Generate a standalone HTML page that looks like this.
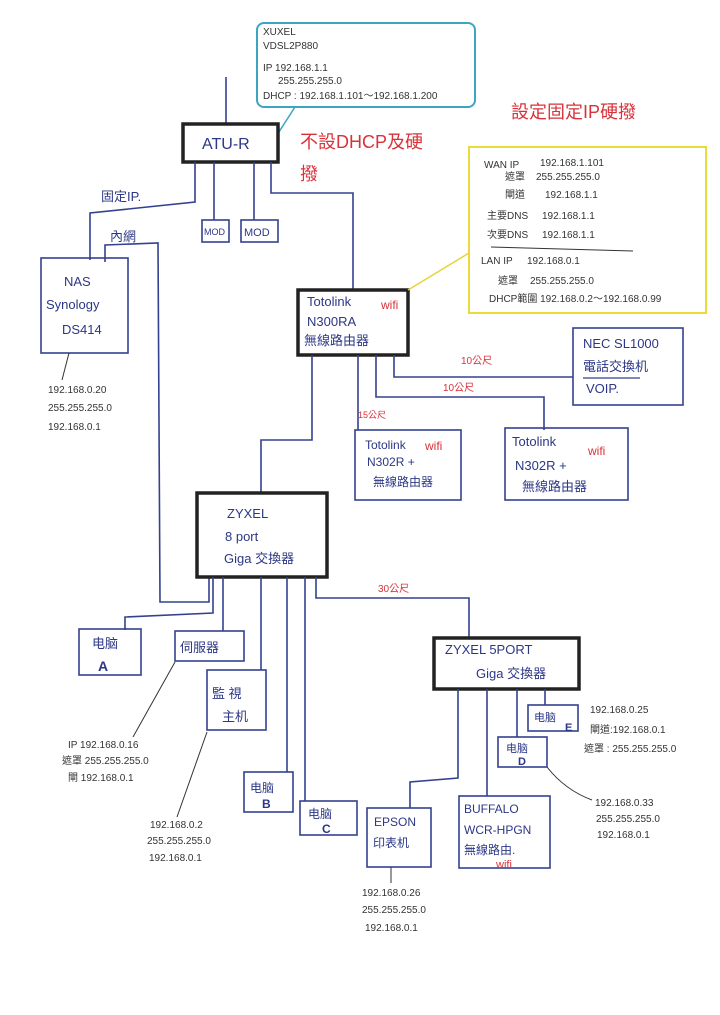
<!DOCTYPE html>
<html><head><meta charset="utf-8"><style>
html,body{margin:0;padding:0;background:#fff;}
svg{display:block;}
text{font-family:"Liberation Sans","Noto Sans CJK TC",sans-serif;fill:#2c3785;}
.s{font-size:10px;fill:#333;}
.r{fill:#d8323a;}
.m{font-size:13px;}
</style></head><body>
<svg width="720" height="1015" viewBox="0 0 720 1015" xmlns="http://www.w3.org/2000/svg">
<rect width="720" height="1015" fill="#fff"/>
<g fill="none" stroke="#34418f" stroke-width="1.6">
<!-- cyan box & ATU -->
<rect x="257" y="23" width="218" height="84" rx="7" stroke="#3aa6c2" stroke-width="2"/>
<line x1="277" y1="135" x2="295" y2="107" stroke="#3aa6c2" stroke-width="1.5"/>
<line x1="226" y1="77" x2="226" y2="124"/>
<rect x="183" y="124" width="95" height="38" stroke="#222" stroke-width="3.5"/>
<!-- ATU lines -->
<polyline points="195,162 195,202 90,213 90,260"/>
<polyline points="214,162 214,220"/>
<rect x="202" y="220" width="27" height="22"/>
<polyline points="254,162 254,220"/>
<rect x="241" y="220" width="37" height="22"/>
<polyline points="271,162 271,193 353,193 353,290"/>
<polyline points="105,262 105,245 158,243 160,602 209,602 209,577"/>
<!-- NAS -->
<rect x="41" y="258" width="87" height="95"/>
<line x1="69" y1="353" x2="62" y2="380" stroke="#333" stroke-width="1"/>
<!-- totolink main -->
<rect x="298" y="290" width="110" height="65" stroke="#222" stroke-width="3.5"/>
<line x1="408" y1="290" x2="469" y2="253" stroke="#e6d43a" stroke-width="1.5"/>
<rect x="469" y="147" width="237" height="166" stroke="#e9da3e" stroke-width="2"/>
<line x1="491" y1="247" x2="633" y2="251" stroke="#333" stroke-width="1"/>
<polyline points="394,355 394,377 573,377"/>
<polyline points="376,355 376,397 544,397 544,430"/>
<polyline points="358,355 358,430"/>
<polyline points="312,355 312,440 261,440 261,493"/>
<rect x="573" y="328" width="110" height="77"/>
<line x1="583" y1="378" x2="640" y2="378" stroke-width="1.2"/>
<rect x="355" y="430" width="106" height="70"/>
<rect x="505" y="428" width="123" height="72"/>
<!-- 8 port -->
<rect x="197" y="493" width="130" height="84" stroke="#222" stroke-width="3.5"/>
<polyline points="213,577 213,613 125,617 125,630"/>
<polyline points="223,577 223,631"/>
<polyline points="261,577 261,670"/>
<polyline points="287,577 287,772"/>
<polyline points="305,577 305,801"/>
<polyline points="316,577 316,598 469,598 469,638"/>
<rect x="79" y="629" width="62" height="46"/>
<rect x="175" y="631" width="69" height="30"/>
<line x1="175" y1="662" x2="133" y2="737" stroke="#333" stroke-width="1"/>
<rect x="207" y="670" width="59" height="60"/>
<line x1="207" y1="732" x2="177" y2="817" stroke="#333" stroke-width="1"/>
<rect x="244" y="772" width="49" height="40"/>
<rect x="300" y="801" width="57" height="34"/>
<!-- 5 port -->
<rect x="434" y="638" width="145" height="51" stroke="#222" stroke-width="3.5"/>
<polyline points="458,689 458,778 410,782 410,808"/>
<polyline points="487,689 487,796"/>
<polyline points="517,689 517,737"/>
<polyline points="545,689 545,705"/>
<rect x="528" y="705" width="50" height="26"/>
<rect x="498" y="737" width="49" height="30"/>
<path d="M547,767 Q565,790 592,800" stroke="#333" stroke-width="1"/>
<rect x="367" y="808" width="64" height="59"/>
<line x1="391" y1="867" x2="391" y2="883" stroke="#333" stroke-width="1"/>
<rect x="459" y="796" width="91" height="72"/>
</g>
<!-- texts -->
<text class="s" x="263" y="35">XUXEL</text>
<text class="s" x="263" y="49">VDSL2P880</text>
<text class="s" x="263" y="71">IP 192.168.1.1</text>
<text class="s" x="278" y="84">255.255.255.0</text>
<text class="s" x="263" y="99">DHCP : 192.168.1.101～192.168.1.200</text>
<text x="202" y="149" style="font-size:16px">ATU-R</text>
<text class="r" x="300" y="148" style="font-size:18px">不設DHCP及硬</text>
<text class="r" x="300" y="180" style="font-size:18px">撥</text>
<text class="r" x="511" y="118" style="font-size:18px">設定固定IP硬撥</text>
<text x="101" y="201" class="m">固定IP.</text>
<text x="110" y="241" class="m">內網</text>
<text x="204" y="235" style="font-size:9px">MOD</text>
<text x="244" y="236" style="font-size:11px">MOD</text>
<text x="64" y="286" class="m">NAS</text>
<text x="46" y="309" class="m">Synology</text>
<text x="62" y="334" class="m">DS414</text>
<text class="s" x="48" y="393">192.168.0.20</text>
<text class="s" x="48" y="411">255.255.255.0</text>
<text class="s" x="48" y="430">192.168.0.1</text>
<text x="307" y="306" class="m">Totolink</text>
<text x="381" y="309" class="r" style="font-size:12px">wifi</text>
<text x="307" y="326" class="m">N300RA</text>
<text x="304" y="345" class="m">無線路由器</text>
<g class="s">
<text class="s" x="484" y="168">WAN IP</text><text class="s" x="540" y="166">192.168.1.101</text>
<text class="s" x="505" y="180">遮罩</text><text class="s" x="536" y="180">255.255.255.0</text>
<text class="s" x="505" y="198">閘道</text><text class="s" x="545" y="198">192.168.1.1</text>
<text class="s" x="487" y="219">主要DNS</text><text class="s" x="542" y="219">192.168.1.1</text>
<text class="s" x="487" y="238">次要DNS</text><text class="s" x="542" y="238">192.168.1.1</text>
<text class="s" x="481" y="264">LAN IP</text><text class="s" x="527" y="264">192.168.0.1</text>
<text class="s" x="498" y="284">遮罩</text><text class="s" x="530" y="284">255.255.255.0</text>
<text class="s" x="489" y="302">DHCP範圍 192.168.0.2～192.168.0.99</text>
</g>
<text class="r" x="461" y="364" style="font-size:10px">10公尺</text>
<text class="r" x="443" y="391" style="font-size:10px">10公尺</text>
<text class="r" x="358" y="418" style="font-size:9px">15公尺</text>
<text x="583" y="348" class="m">NEC SL1000</text>
<text x="583" y="371" class="m">電話交換机</text>
<text x="586" y="393" class="m">VOIP.</text>
<text x="365" y="449" style="font-size:12px">Totolink</text>
<text x="425" y="450" class="r" style="font-size:12px">wifi</text>
<text x="367" y="466" style="font-size:12px">N302R +</text>
<text x="373" y="486" style="font-size:12px">無線路由器</text>
<text x="512" y="446" class="m">Totolink</text>
<text x="588" y="455" class="r" style="font-size:12px">wifi</text>
<text x="515" y="470" class="m">N302R +</text>
<text x="522" y="491" class="m">無線路由器</text>
<text x="227" y="518" class="m">ZYXEL</text>
<text x="225" y="541" class="m">8 port</text>
<text x="224" y="563" class="m">Giga 交換器</text>
<text class="r" x="378" y="592" style="font-size:10px">30公尺</text>
<text x="92" y="648" class="m">电脑</text>
<text x="98" y="671" style="font-size:14px;font-weight:bold">A</text>
<text x="180" y="652" class="m">伺服器</text>
<text x="212" y="698" class="m">監 視</text>
<text x="222" y="721" class="m">主机</text>
<text class="s" x="68" y="748">IP  192.168.0.16</text>
<text class="s" x="62" y="764">遮罩 255.255.255.0</text>
<text class="s" x="68" y="781">閘 192.168.0.1</text>
<text class="s" x="150" y="828">192.168.0.2</text>
<text class="s" x="147" y="844">255.255.255.0</text>
<text class="s" x="149" y="861">192.168.0.1</text>
<text x="250" y="792" style="font-size:12px">电脑</text>
<text x="262" y="808" style="font-size:12px;font-weight:bold">B</text>
<text x="308" y="818" style="font-size:12px">电脑</text>
<text x="322" y="833" style="font-size:12px;font-weight:bold">C</text>
<text x="445" y="654" class="m">ZYXEL  5PORT</text>
<text x="476" y="678" class="m">Giga 交換器</text>
<text x="534" y="721" style="font-size:11px">电脑</text>
<text x="565" y="731" style="font-size:11px;font-weight:bold">E</text>
<text x="506" y="752" style="font-size:11px">电脑</text>
<text x="518" y="765" style="font-size:11px;font-weight:bold">D</text>
<text class="s" x="590" y="713">192.168.0.25</text>
<text class="s" x="590" y="733">閘道:192.168.0.1</text>
<text class="s" x="584" y="752">遮罩 : 255.255.255.0</text>
<text class="s" x="595" y="806">192.168.0.33</text>
<text class="s" x="596" y="822">255.255.255.0</text>
<text class="s" x="597" y="838">192.168.0.1</text>
<text x="374" y="826" style="font-size:12px">EPSON</text>
<text x="373" y="847" style="font-size:12px">印表机</text>
<text class="s" x="362" y="896">192.168.0.26</text>
<text class="s" x="362" y="913">255.255.255.0</text>
<text class="s" x="365" y="931">192.168.0.1</text>
<text x="464" y="813" style="font-size:12px">BUFFALO</text>
<text x="464" y="834" style="font-size:12px">WCR-HPGN</text>
<text x="464" y="854" style="font-size:12px">無線路由.</text>
<text x="496" y="868" class="r" style="font-size:11px">wifi</text>
</svg>
</body></html>
